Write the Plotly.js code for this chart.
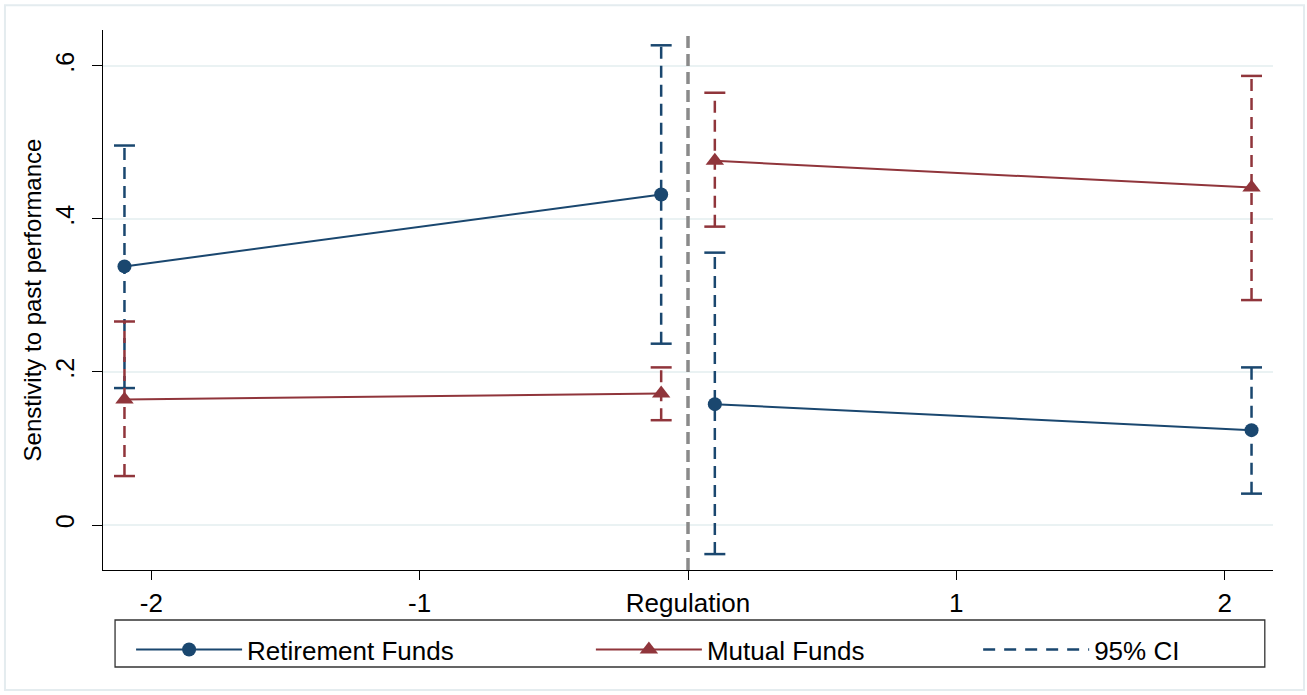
<!DOCTYPE html>
<html>
<head>
<meta charset="utf-8">
<script src="https://cdn.plot.ly/plotly-3.0.1.min.js"></script>
<style>html,body{margin:0;padding:0;background:#fff;}#chart{width:1307px;height:695px;}</style>
</head>
<body>
<div id="chart"></div>
<script>
// ---- data ----
const xPos = [-2.1, -0.1, 0.1, 2.1];
const segment = ['pre', 'pre', 'post', 'post'];
const retEst = [0.338, 0.432, 0.158, 0.124];
const retLo = [0.179, 0.237, -0.038, 0.041];
const retHi = [0.496, 0.627, 0.356, 0.206];
const mutEst = [0.164, 0.172, 0.476, 0.441];
const mutLo = [0.064, 0.137, 0.390, 0.294];
const mutHi = [0.266, 0.206, 0.565, 0.587];
const xTickVals = [-2, -1, 0, 1, 2];
const xTickText = ['-2', '-1', 'Regulation', '1', '2'];
const yTickVals = [0, 0.2, 0.4, 0.6];
const yTickText = ['0', '.2', '.4', '.6'];
const regulationAt = 0;

const navy = '#1a476f';
const maroon = '#90353b';

function segmented(xs, ys) {
  const ox = [], oy = [];
  for (let i = 0; i < xs.length; i++) {
    if (i > 0 && segment[i] !== segment[i - 1]) { ox.push(null); oy.push(null); }
    ox.push(xs[i]); oy.push(ys[i]);
  }
  return {x: ox, y: oy};
}
function ciPath(xs, lo, hi) {
  const ox = [], oy = [];
  for (let i = 0; i < xs.length; i++) {
    ox.push(xs[i], xs[i], null); oy.push(lo[i], hi[i], null);
  }
  return {x: ox, y: oy};
}

const retSeg = segmented(xPos, retEst);
const mutSeg = segmented(xPos, mutEst);
const retCI = ciPath(xPos, retLo, retHi);
const mutCI = ciPath(xPos, mutLo, mutHi);

const capMarker = (c) => ({symbol: 'line-ew', size: 15, line: {color: c, width: 2.5}, color: c});

const traces = [
  {x: retCI.x, y: retCI.y, mode: 'lines+markers', line: {color: navy, width: 2.5, dash: '12px,7px'},
   marker: capMarker(navy), showlegend: false, hoverinfo: 'skip'},
  {x: mutCI.x, y: mutCI.y, mode: 'lines+markers', line: {color: maroon, width: 2.5, dash: '12px,7px'},
   marker: capMarker(maroon), showlegend: false, hoverinfo: 'skip'},
  {x: retSeg.x, y: retSeg.y, mode: 'lines+markers', name: 'Retirement Funds', legend: 'legend',
   line: {color: navy, width: 2}, marker: {symbol: 'circle', size: 14, color: navy}},
  {x: mutSeg.x, y: mutSeg.y, mode: 'lines+markers', name: 'Mutual Funds', legend: 'legend2',
   line: {color: maroon, width: 2}, marker: {symbol: 'triangle-up', size: 16, color: maroon}},
  {x: [null], y: [null], mode: 'lines', name: '95% CI', legend: 'legend3',
   line: {color: navy, width: 2.5, dash: '12px,9px'}}
];

const legendBase = (x) => ({
  orientation: 'h', x: x, xanchor: 'left', y: -0.104, yanchor: 'top',
  borderwidth: 0, bgcolor: 'rgba(0,0,0,0)', font: {size: 26}, itemwidth: 106
});

const layout = {
  width: 1307, height: 695,
  margin: {l: 103, r: 34, t: 30, b: 125},
  paper_bgcolor: '#ffffff', plot_bgcolor: '#ffffff',
  font: {family: '"Liberation Sans", Arial, sans-serif', color: '#000'},
  showlegend: true,
  xaxis: {
    range: [-2.18, 2.18], tickvals: xTickVals, ticktext: xTickText,
    showgrid: false, zeroline: false, showline: true, linecolor: '#000', linewidth: 1.3,
    ticks: 'outside', ticklen: 9, tickcolor: '#000', tickfont: {size: 26}
  },
  yaxis: {
    range: [-0.0588, 0.647], tickvals: yTickVals, ticktext: yTickText,
    showgrid: true, gridcolor: '#eaf2f3', gridwidth: 2, zeroline: false,
    showline: true, linecolor: '#000', linewidth: 1.3,
    ticks: 'outside', ticklen: 10, tickcolor: '#000', tickangle: -90, tickfont: {size: 25},
    ticklabelstandoff: 8,
    title: {text: 'Senstivity to past performance', font: {size: 24}, standoff: 2}
  },
  legend: legendBase(0.024),
  legend2: legendBase(0.417),
  legend3: legendBase(0.748),
  shapes: [
    {type: 'line', xref: 'x', yref: 'paper', x0: regulationAt, x1: regulationAt, y0: 0, y1: 0.99,
     line: {color: '#8a8a8a', width: 3.5, dash: '12px,6px'}},
    {type: 'rect', xref: 'paper', yref: 'paper', x0: 0.0103, x1: 0.993, y0: -0.0926, y1: -0.1796,
     line: {color: '#333', width: 1.3}, fillcolor: 'rgba(0,0,0,0)'},
    {type: 'rect', xref: 'paper', yref: 'paper', x0: -0.0838, x1: 1.0265, y0: -0.222, y1: 1.046,
     line: {color: '#e4ecef', width: 2}, layer: 'below'}
  ]
};

Plotly.newPlot('chart', traces, layout, {displayModeBar: false, staticPlot: true});
</script>
</body>
</html>
